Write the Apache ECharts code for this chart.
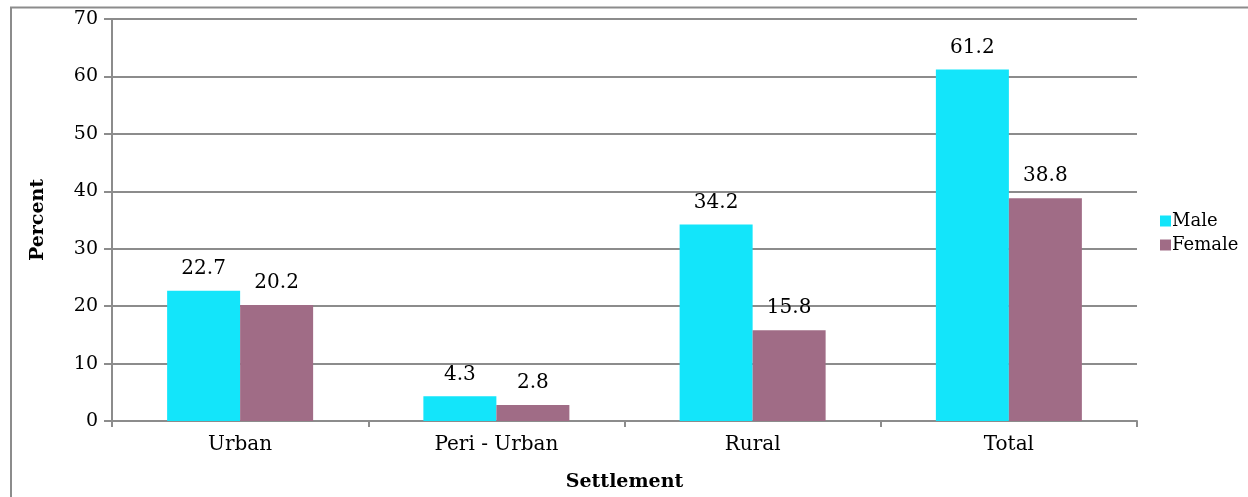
<!DOCTYPE html>
<html><head><meta charset="utf-8">
<script src="https://cdn.jsdelivr.net/npm/echarts@6/dist/echarts.min.js"></script>
<style>html,body{margin:0;padding:0;background:#fff}#c{width:1248px;height:497px}</style>
</head><body><div id="c"></div>
<script>
var categories = ['Urban', 'Peri - Urban', 'Rural', 'Total'];
var maleValues = [22.7, 4.3, 34.2, 61.2];
var femaleValues = [20.2, 2.8, 15.8, 38.8];
var seriesNames = ['Male', 'Female'];
var yTicks = [0, 10, 20, 30, 40, 50, 60, 70];

var font = '"DejaVu Serif", "Liberation Serif", serif';
var chart = echarts.init(document.getElementById('c'), null, {renderer: 'canvas'});
chart.setOption({
  animation: false,
  textStyle: {fontFamily: font},
  graphic: [
    {type: 'polyline', shape: {points: [[11, 500], [11, 7.5], [1248, 7.5]]}, style: {stroke: '#8c8c8c', lineWidth: 2, fill: null}}
  ],
  legend: {
    orient: 'vertical', left: 1155, top: 207, itemWidth: 11, itemHeight: 11, itemGap: 6,
    icon: 'rect',
    textStyle: {fontFamily: font, fontSize: 18, color: '#000', padding: [0, 0, 0, -4]},
    data: seriesNames
  },
  grid: {left: 112, right: 111, top: 19, bottom: 75, containLabel: false},
  xAxis: {
    type: 'category', data: categories,
    name: 'Settlement', nameLocation: 'middle', nameGap: 52,
    nameTextStyle: {fontFamily: font, fontWeight: 'bold', fontSize: 19, color: '#000'},
    axisLine: {lineStyle: {color: '#8c8c8c', width: 2}},
    axisTick: {show: true, length: 6, lineStyle: {color: '#8c8c8c', width: 2}},
    axisLabel: {fontFamily: font, fontSize: 20, color: '#000', margin: 14}
  },
  yAxis: {
    type: 'value', min: 0, max: 70, interval: 10,
    name: 'Percent', nameLocation: 'middle', nameGap: 64, nameRotate: 90,
    nameTextStyle: {fontFamily: font, fontWeight: 'bold', fontSize: 19, color: '#000'},
    axisLine: {show: true, lineStyle: {color: '#8c8c8c', width: 2}},
    axisTick: {show: true, length: 8, lineStyle: {color: '#8c8c8c', width: 2}},
    axisLabel: {fontFamily: font, fontSize: 19, color: '#000', margin: 14,
      formatter: function (v) { return yTicks.indexOf(v) >= 0 ? String(v) : ''; }},
    splitLine: {show: true, lineStyle: {color: '#8c8c8c', width: 2}}
  },
  series: [
    {name: seriesNames[0], type: 'bar', data: maleValues, barWidth: 73, barGap: '0%',
     itemStyle: {color: '#13E5FA'},
     label: {show: true, position: 'top', distance: 12, fontFamily: font, fontSize: 20, color: '#000'}},
    {name: seriesNames[1], type: 'bar', data: femaleValues, barWidth: 73, barGap: '0%',
     itemStyle: {color: '#A06C86'},
     label: {show: true, position: 'top', distance: 12, fontFamily: font, fontSize: 20, color: '#000'}}
  ]
});
</script></body></html>
